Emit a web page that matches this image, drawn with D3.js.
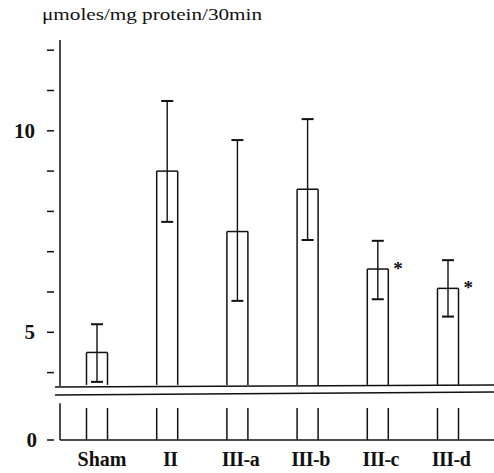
<!DOCTYPE html>
<html>
<head>
<meta charset="utf-8">
<script src="https://cdn.jsdelivr.net/npm/d3@7"></script>
<style>
  body { margin: 0; background: #fff; }
</style>
</head>
<body>
<svg id="chart" width="494" height="473" font-family="Liberation Serif"></svg>
<script>
// data
var groups = ["Sham", "II", "III-a", "III-b", "III-c", "III-d"]
var means = [4.5, 9.0, 7.5, 8.55, 6.57, 6.09]
var errUp = [0.7, 1.74, 2.27, 1.74, 0.7, 0.7]
var errDown = [0.73, 1.26, 1.72, 1.26, 0.75, 0.7]
var significant = [false, false, false, false, true, true]
var upperTicks = [4, 5, 6, 7, 8, 9, 10, 11, 12]
var tickLabels = [5, 10]

var svg = d3.select("#chart")
var axisX = 60

// broken y axis: upper part 3.67 .. 12.25, lower part 0 .. 0.9
var yUp = d3.scaleLinear().domain([5, 10]).range([332.3, 130.8])
var yLow = d3.scaleLinear().domain([0, 1]).range([440, 400])
var x = d3.scalePoint().domain(groups).range([97, 448])
var barW = 21, capW = 12
var breakTop = 3.67, lowTop = 0.8

var line = function(x1, y1, x2, y2, w) {
  return svg.append("line").attr("x1", x1).attr("y1", y1).attr("x2", x2).attr("y2", y2)
    .attr("stroke", "#111").attr("stroke-width", w || 1.5)
}

// title
svg.append("text").attr("x", 42).attr("y", 20).attr("fill", "#111")
  .attr("font-family", "Liberation Serif")
  .attr("font-size", 17).attr("textLength", 220).attr("lengthAdjust", "spacingAndGlyphs")
  .text("\u03bcmoles/mg  protein/30min")

// axis segments
line(axisX, 40, axisX, yUp(breakTop))
line(axisX, yLow(0.92), axisX, yLow(0))
line(axisX, yLow(0), 494, yLow(0))

// break lines
line(55, 387, 494, 385, 1.6)
line(55, 395, 494, 392, 1.6)

// ticks (detached from axis, like the original)
upperTicks.forEach(function(t) { line(47, yUp(t), 54, yUp(t), 1.5) })
line(47, yLow(0), 54, yLow(0), 1.5)

svg.selectAll(".ylab").data(tickLabels).enter().append("text")
  .attr("x", 35).attr("y", function(d) { return yUp(d) + 7 })
  .attr("font-family", "Liberation Serif").attr("fill", "#111")
  .attr("text-anchor", "end").attr("font-size", 21).attr("font-weight", "bold")
  .text(function(d) { return d })
svg.append("text").attr("x", 37).attr("y", yLow(0) + 7)
  .attr("font-family", "Liberation Serif").attr("fill", "#111")
  .attr("text-anchor", "end").attr("font-size", 21).attr("font-weight", "bold").text("0")

// bars: open rectangles split by the break
groups.forEach(function(g, i) {
  var cx = x(g), l = cx - barW / 2, r = cx + barW / 2
  var top = yUp(means[i])
  line(l, top, r, top)
  line(l, top, l, yUp(breakTop) - 1)
  line(r, top, r, yUp(breakTop) - 1)
  line(l, yLow(lowTop), l, yLow(0))
  line(r, yLow(lowTop), r, yLow(0))

  // error bar
  var hi = yUp(means[i] + errUp[i]), lo = yUp(means[i] - errDown[i])
  line(cx, hi, cx, lo, 1.4)
  line(cx - capW / 2, hi, cx + capW / 2, hi, 2)
  line(cx - capW / 2, lo, cx + capW / 2, lo, 2)

  if (significant[i]) {
    svg.append("text").attr("x", r + 5).attr("y", top + 6)
      .attr("font-family", "Liberation Serif").attr("fill", "#111")
      .attr("font-size", 19).attr("font-weight", "bold").text("*")
  }
})

// category labels
svg.selectAll(".xlab").data(groups).enter().append("text")
  .attr("x", function(d) { return x(d) + (d == "Sham" ? 5 : 3) })
  .attr("y", 466).attr("text-anchor", "middle")
  .attr("font-family", "Liberation Serif").attr("fill", "#111")
  .attr("font-size", 20).attr("font-weight", "bold")
  .attr("letter-spacing", function(d) { return d == "Sham" ? 0 : -0.5 })
  .text(function(d) { return d })
</script>
</body>
</html>
